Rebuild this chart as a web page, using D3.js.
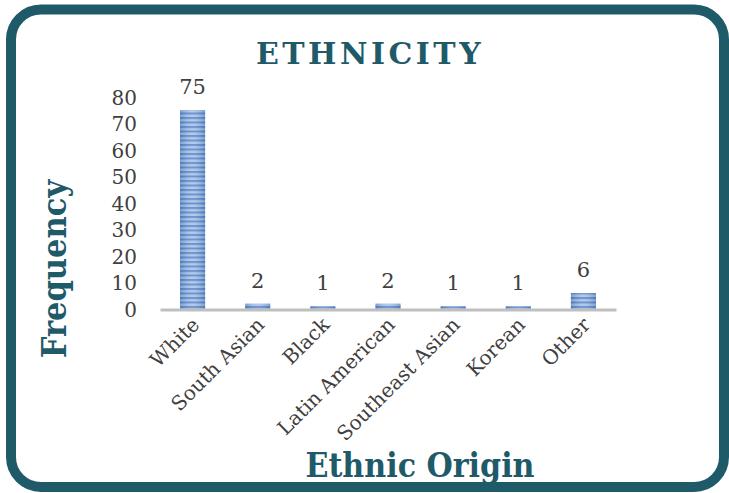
<!DOCTYPE html>
<html><head><meta charset="utf-8">
<script src="https://cdn.jsdelivr.net/npm/d3@7/dist/d3.min.js"></script>
<style>body{margin:0;background:#fff}svg{display:block}</style>
</head><body>
<script>
const categories = ["White","South Asian","Black","Latin American","Southeast Asian","Korean","Other"];
const values = [75,2,1,2,1,1,6];
const yTicks = [0,10,20,30,40,50,60,70,80];
const chartTitle = "ETHNICITY";
const xTitle = "Ethnic Origin";
const yTitle = "Frequency";

const W = 729, H = 493;
const teal = "#1f5a69";
const serif = "'DejaVu Serif', serif";
const svg = d3.select("body").append("svg").attr("width", W).attr("height", H);

const defs = svg.append("defs");
const pat = defs.append("pattern").attr("id","stripes").attr("patternUnits","userSpaceOnUse")
  .attr("width", 40).attr("height", 4.5);
pat.append("rect").attr("width",40).attr("height",4.5).attr("fill","#a7c2ea");
pat.append("rect").attr("y",0).attr("width",40).attr("height",2).attr("fill","#5683c6");
const grad = defs.append("linearGradient").attr("id","shade").attr("x1",0).attr("x2",1);
grad.append("stop").attr("offset","0").attr("stop-color","#2f5f9e").attr("stop-opacity",0.35);
grad.append("stop").attr("offset","0.5").attr("stop-color","#ffffff").attr("stop-opacity",0.15);
grad.append("stop").attr("offset","1").attr("stop-color","#2f5f9e").attr("stop-opacity",0.35);

// frame
svg.append("rect").attr("x",11).attr("y",9.5).attr("width",713).attr("height",477.5)
  .attr("rx",30).attr("ry",30).attr("fill","#fff").attr("stroke",teal).attr("stroke-width",10);

const x = d3.scaleBand().domain(categories).range([160,616]).paddingInner(0.615).paddingOuter(0.3075);
const y = d3.scaleLinear().domain([0,80]).range([309,96.8]);

// y tick labels
const yAxis = d3.axisLeft(y).tickValues(yTicks).tickSize(0).tickPadding(0);
const ya = svg.append("g").attr("transform","translate(137,0)").call(yAxis);
ya.select(".domain").remove();
ya.selectAll("text").attr("font-family",serif).attr("font-size",20).attr("fill","#404040").attr("dy","0.36em");

// bars
const bars = svg.append("g");
bars.selectAll("rect.b").data(values).join("rect").attr("class","b")
  .attr("x",(d,i)=>x(categories[i])).attr("y",d=>y(d))
  .attr("width",x.bandwidth()).attr("height",d=>y(0)-y(d)).attr("fill","url(#stripes)");
bars.selectAll("rect.s").data(values).join("rect").attr("class","s")
  .attr("x",(d,i)=>x(categories[i])).attr("y",d=>y(d))
  .attr("width",x.bandwidth()).attr("height",d=>y(0)-y(d)).attr("fill","url(#shade)");

// x axis line
const xAxis = d3.axisBottom(x).tickSize(0).tickFormat("");
const xa = svg.append("g").attr("transform","translate(0,309.5)").call(xAxis);
xa.select(".domain").attr("stroke","#bfbfbf").attr("stroke-width",3);

// category labels
svg.append("g").selectAll("text").data(categories).join("text")
  .attr("transform",d=>`translate(${x(d)+x.bandwidth()/2+8},${326}) rotate(-45)`)
  .attr("text-anchor","end").attr("font-family",serif).attr("font-size",20).attr("fill","#404040")
  .text(d=>d);

// data labels
svg.append("g").selectAll("text").data(values).join("text")
  .attr("x",(d,i)=>x(categories[i])+x.bandwidth()/2).attr("y",d=>y(d)-16)
  .attr("text-anchor","middle").attr("font-family",serif).attr("font-size",21).attr("fill","#404040")
  .text(d=>d);

// titles
svg.append("text").attr("x",370).attr("y",64).attr("text-anchor","middle")
  .attr("font-family",serif).attr("font-weight","bold").attr("font-size",30)
  .attr("letter-spacing",3.5).attr("fill",teal).text(chartTitle);
svg.append("text").attr("x",420).attr("y",477).attr("text-anchor","middle")
  .attr("font-family","'DejaVu Serif Condensed', "+serif).attr("font-weight","bold").attr("font-size",33.5)
  .attr("fill",teal).text(xTitle);
svg.append("text").attr("transform","translate(66,269) rotate(-90)").attr("text-anchor","middle")
  .attr("font-family","'DejaVu Serif Condensed', "+serif).attr("font-weight","bold").attr("font-size",34)
  .attr("fill",teal).text(yTitle);
</script>
</body></html>
